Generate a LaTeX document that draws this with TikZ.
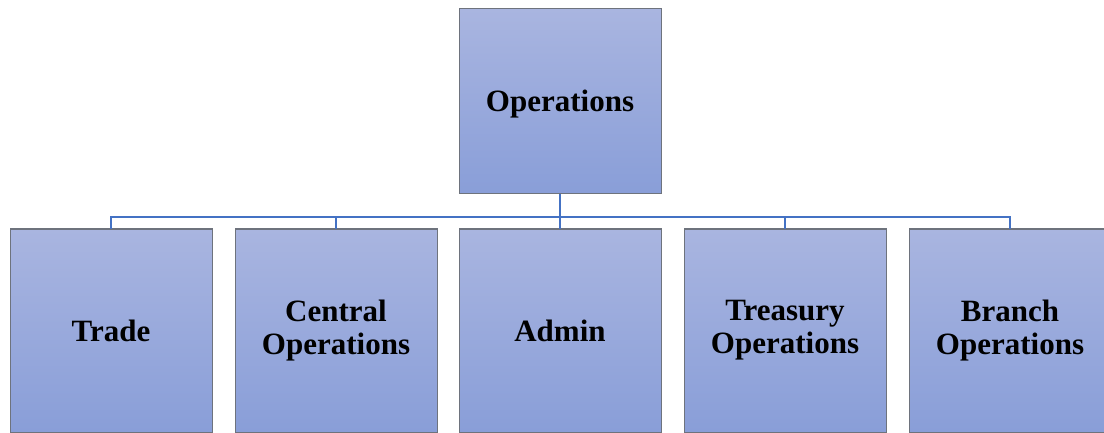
\documentclass[tikz,border=0pt]{standalone}
\usepackage{fontspec}
\setmainfont{Liberation Serif}
\definecolor{boxtop}{RGB}{169,181,224}
\definecolor{boxbot}{RGB}{137,158,216}
\definecolor{boxline}{RGB}{110,115,125}
\definecolor{conn}{RGB}{68,114,196}
\tikzset{
  orgbox/.style={draw=boxline, line width=1pt, top color=boxtop, bottom color=boxbot,
    minimum width=202pt, inner sep=0pt, outer sep=0pt, align=center,
    font=\fontsize{31}{33}\selectfont\bfseries},
  connector/.style={draw=conn, line width=2.5pt}
}
\begin{document}
\begin{tikzpicture}[x=1pt,y=-1pt]
\path[use as bounding box] (0,0) rectangle (1104,433);
\clip (0,0) rectangle (1104,433);
\node[orgbox, minimum height=185pt, text height=21pt, text depth=0pt] (top) at (560,101.5) {Operations};
\node[orgbox, minimum height=203pt] (c1) at (111,330.5) {Trade};
\node[orgbox, minimum height=203pt] (c2) at (336,330.5) {Central\\Operations};
\node[orgbox, minimum height=203pt] (c3) at (560,330.5) {Admin};
\node[orgbox, minimum height=203pt] (c4) at (785,330.5) {Treasury\\Operations};
\node[orgbox, minimum height=203pt] (c5) at (1010,330.5) {Branch\\Operations};
\coordinate (bus) at (560,217);
\draw[connector] (top.south) -- (bus);
\draw[connector] (bus) -| (c1.north);
\draw[connector] (bus) -| (c2.north);
\draw[connector] (bus) -- (c3.north);
\draw[connector] (bus) -| (c4.north);
\draw[connector] (bus) -| (c5.north);
\end{tikzpicture}
\end{document}
